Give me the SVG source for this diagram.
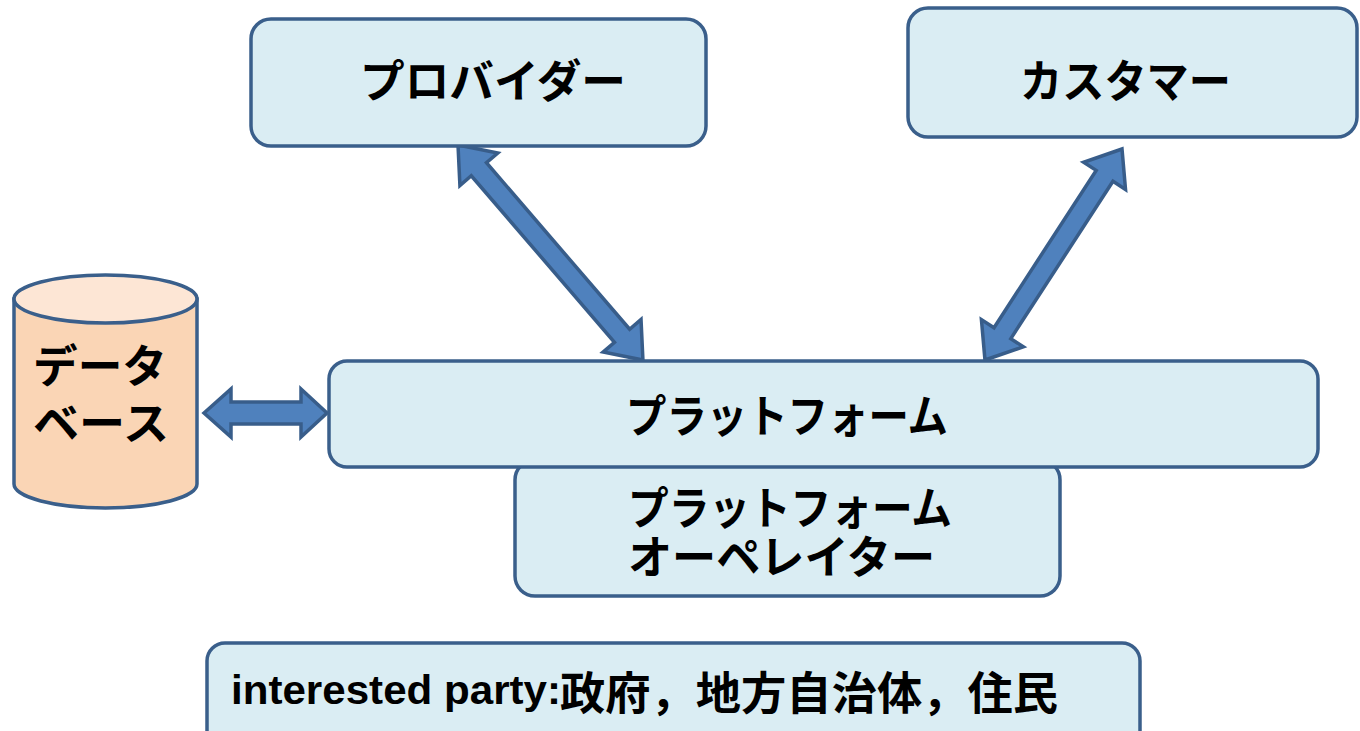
<svg xmlns="http://www.w3.org/2000/svg" width="1360" height="731" viewBox="0 0 1360 731">
<style>
.box{fill:#daedf3;stroke:#3a5f8b;stroke-width:3.5}
.arr{fill:#4f81bd;stroke:#385d8a;stroke-width:3.5;stroke-linejoin:miter}
.jp{font-family:"Noto Sans CJK JP","Noto Sans CJK SC",sans-serif;font-weight:bold;font-size:45px;fill:#000;dominant-baseline:central}
.lat{font-family:"Liberation Sans","Noto Sans",sans-serif;font-weight:bold;font-size:40px;fill:#000}
</style>
<rect width="1360" height="731" fill="#ffffff"/>
<g id="connectors">
  <g transform="translate(458,145) rotate(49.3)">
    <polygon class="arr" points="0,0 32,-25 32,-10 251.6,-10 251.6,-25 283.6,0 251.6,25 251.6,10 32,10 32,25"/>
  </g>
  <g transform="translate(1122,149) rotate(123)">
    <polygon class="arr" points="0,0 32,-25 32,-10 219.6,-10 219.6,-25 251.6,0 219.6,25 219.6,10 32,10 32,25"/>
  </g>
  <g transform="translate(204,413)">
    <polygon class="arr" points="0,0 27,-24 27,-11 97,-11 97,-24 123,0 97,24 97,11 27,11 27,24"/>
  </g>
</g>
<g id="provider">
  <rect class="box" x="251" y="19" width="455" height="127" rx="20"/>
  <text class="jp" x="360" y="78" textLength="266" lengthAdjust="spacingAndGlyphs">プロバイダー</text>
</g>
<g id="customer">
  <rect class="box" x="908" y="8" width="449" height="129" rx="20"/>
  <text class="jp" x="1020" y="78" textLength="211" lengthAdjust="spacingAndGlyphs">カスタマー</text>
</g>
<g id="operator">
  <rect class="box" x="515" y="460" width="545" height="136" rx="20"/>
  <text class="jp"><tspan x="628" y="505" textLength="324" lengthAdjust="spacingAndGlyphs">プラットフォーム</tspan><tspan x="628" y="554" textLength="307" lengthAdjust="spacingAndGlyphs">オーペレイター</tspan></text>
</g>
<g id="platform">
  <rect class="box" x="329" y="361" width="989" height="106" rx="18"/>
  <text class="jp" x="626" y="413" textLength="322" lengthAdjust="spacingAndGlyphs">プラットフォーム</text>
</g>
<g id="database">
  <path d="M14,299 L14,484 A91.5,24 0 0 0 197,484 L197,299 Z" fill="#fad5b5" stroke="#3a5f8b" stroke-width="3.5"/>
  <ellipse cx="105.5" cy="299" rx="91.5" ry="24" fill="#fde6d5" stroke="#3a5f8b" stroke-width="3.5"/>
  <text class="jp"><tspan x="33" y="363" textLength="134" lengthAdjust="spacingAndGlyphs">データ</tspan><tspan x="33" y="420" textLength="136" lengthAdjust="spacingAndGlyphs">ベース</tspan></text>
</g>
<g id="interested-party">
  <rect class="box" x="207" y="643" width="933" height="110" rx="18"/>
  <text class="lat" x="231" y="704" textLength="330" lengthAdjust="spacingAndGlyphs">interested party:</text>
  <text class="jp" x="560" y="690" font-size="46" textLength="498" lengthAdjust="spacingAndGlyphs">政府，地方自治体，住民</text>
</g>
</svg>
